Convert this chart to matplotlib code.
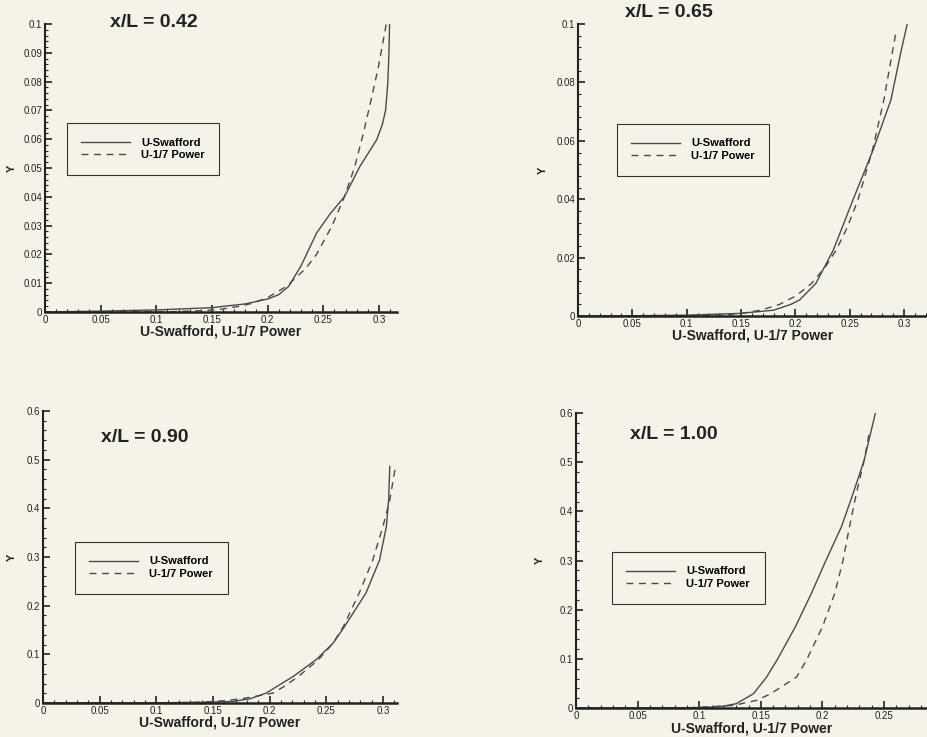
import numpy as np
import matplotlib
matplotlib.use('Agg')
import matplotlib.pyplot as plt
from matplotlib.ticker import MultipleLocator

plt.rcParams['font.family'] = ['Liberation Sans', 'DejaVu Sans']

# x/L = 0.42
u_swaf_042 = [0, 0.05, 0.1, 0.15, 0.18, 0.2, 0.21, 0.219, 0.23, 0.244, 0.256,
              0.269, 0.283, 0.298, 0.303, 0.306, 0.308, 0.309, 0.3096]
y_swaf_042 = [0, 0.0003, 0.0007, 0.0015, 0.0028, 0.0045, 0.006, 0.0089, 0.016,
              0.0274, 0.034, 0.040, 0.0506, 0.0598, 0.065, 0.070, 0.0795,
              0.09, 0.1]
u_pow_042 = [0, 0.082, 0.114, 0.144, 0.159, 0.175, 0.186, 0.200, 0.217, 0.234,
             0.244, 0.258, 0.268, 0.278, 0.286, 0.293, 0.2995, 0.3066]
y_pow_042 = [0, 0.00001, 0.0001, 0.0005, 0.001, 0.002, 0.003, 0.005, 0.0089,
             0.015, 0.02, 0.03, 0.039, 0.05, 0.062, 0.0737, 0.085, 0.1]

# x/L = 0.65
u_swaf_065 = [0, 0.05, 0.1, 0.149, 0.18, 0.196, 0.204, 0.219, 0.235, 0.253,
              0.2715, 0.288, 0.2975, 0.303]
y_swaf_065 = [0, 0.0001, 0.0003, 0.0009, 0.002, 0.004, 0.0055, 0.0112, 0.0226,
              0.0397, 0.0568, 0.074, 0.091, 0.1]
u_pow_065 = [0, 0.0788, 0.1095, 0.138, 0.152, 0.168, 0.1856, 0.201, 0.215,
             0.228, 0.2376, 0.2474, 0.2576, 0.271, 0.2815, 0.293]
y_pow_065 = [0, 0.00001, 0.0001, 0.0005, 0.001, 0.002, 0.004, 0.007, 0.0112,
             0.017, 0.0226, 0.03, 0.0397, 0.0568, 0.074, 0.098]

# x/L = 0.90
u_swaf_090 = [0, 0.1, 0.138, 0.168, 0.183, 0.197, 0.221, 0.241, 0.256, 0.266,
              0.285, 0.297, 0.303, 0.305, 0.306]
y_swaf_090 = [0, 0.0005, 0.0013, 0.0034, 0.009, 0.0205, 0.055, 0.089, 0.123,
              0.157, 0.226, 0.294, 0.363, 0.417, 0.486]
u_pow_090 = [0, 0.0838, 0.1164, 0.1418, 0.1617, 0.1786, 0.203, 0.2127, 0.2255,
             0.243, 0.256, 0.265, 0.279, 0.291, 0.300, 0.306, 0.311]
y_pow_090 = [0, 0.00005, 0.0005, 0.002, 0.005, 0.01, 0.0205, 0.034, 0.055,
             0.089, 0.123, 0.157, 0.226, 0.294, 0.363, 0.417, 0.486]

# x/L = 1.00
u_swaf_100 = [0, 0.09, 0.1115, 0.12, 0.13, 0.144, 0.1547, 0.163, 0.178, 0.191,
              0.203, 0.2155, 0.225, 0.234, 0.243]
y_swaf_100 = [0, 0.0005, 0.002, 0.004, 0.0088, 0.029, 0.063, 0.097, 0.165,
              0.233, 0.301, 0.369, 0.437, 0.505, 0.6]
u_pow_100 = [0, 0.0694, 0.0964, 0.128, 0.1466, 0.158, 0.179, 0.187, 0.2, 0.210,
             0.2168, 0.222, 0.2276, 0.234, 0.238]
y_pow_100 = [0, 0.0001, 0.001, 0.0054, 0.0156, 0.029, 0.063, 0.097, 0.165,
             0.233, 0.301, 0.369, 0.437, 0.505, 0.559]

titles = ['x/L = 0.42', 'x/L = 0.65', 'x/L = 0.90', 'x/L = 1.00']

bg = '#f4f3ea'
ink = '#222222'
linec = '#4a4a4a'

fig = plt.figure(figsize=(9.27, 7.37), dpi=100, facecolor=bg)

# [left, bottom, width, height], xmax, ymax, y major, y minor
panels = [
    ([0.0485, 0.5767, 0.3797, 0.3907], 0.3162, 0.1, 0.01, 0.002,
     (u_swaf_042, y_swaf_042, u_pow_042, y_pow_042), (0.0625, 0.656),
     -0.094, (0.166, 0.9688)),
    ([0.6235, 0.5712, 0.3765, 0.3962], 0.3212, 0.1, 0.02, 0.004,
     (u_swaf_065, y_swaf_065, u_pow_065, y_pow_065), (0.1117, 0.6575),
     -0.10, (0.7217, 0.9837)),
    ([0.0464, 0.0461, 0.3819, 0.3962], 0.3124, 0.6, 0.1, 0.02,
     (u_swaf_090, y_swaf_090, u_pow_090, y_pow_090), (0.0904, 0.5514),
     -0.0876, (0.1564, 0.4057)),
    ([0.6214, 0.0393, 0.3786, 0.4003], 0.2849, 0.6, 0.1, 0.02,
     (u_swaf_100, y_swaf_100, u_pow_100, y_pow_100), (0.1026, 0.529),
     -0.1026, (0.7271, 0.4111)),
]

def tick_fmt(v, pos):
    if abs(v) < 1e-12:
        return '0'
    s = '%.2f' % v
    return s.rstrip('0').rstrip('.')

for i, (rect, xmax, ymax, ymaj, ymin, data, legpos, ylab_x, tpos) in enumerate(panels):
    ax = fig.add_axes(rect)
    ax.set_facecolor(bg)
    us, ys, up, yp = data
    ax.plot(us, ys, color=linec, lw=1.0, label='U-Swafford')
    ax.plot(up, yp, color=linec, lw=1.0, linestyle=(0, (5, 4)), label='U-1/7 Power')
    ax.set_xlim(0, xmax)
    ax.set_ylim(0, ymax)

    for s in ['top', 'right']:
        ax.spines[s].set_visible(False)
    ax.spines['left'].set_linewidth(1.5)
    ax.spines['bottom'].set_linewidth(1.8)
    ax.spines['left'].set_color(ink)
    ax.spines['bottom'].set_color(ink)

    ax.xaxis.set_major_locator(MultipleLocator(0.05))
    ax.xaxis.set_minor_locator(MultipleLocator(0.01))
    ax.yaxis.set_major_locator(MultipleLocator(ymaj))
    ax.yaxis.set_minor_locator(MultipleLocator(ymin))
    ax.xaxis.set_major_formatter(plt.FuncFormatter(tick_fmt))
    ax.yaxis.set_major_formatter(plt.FuncFormatter(tick_fmt))

    ax.tick_params(which='major', direction='in', length=5, width=1.2,
                   labelsize=7, colors=ink, pad=2)
    ax.tick_params(which='minor', direction='in', length=2.5, width=0.8, colors=ink)

    ax.set_xlabel('U-Swafford, U-1/7 Power', fontsize=10, fontweight='bold', color=ink)
    ax.xaxis.label.set_verticalalignment('center')
    ax.xaxis.set_label_coords(0.5, -0.068)
    ax.set_ylabel('Y', fontsize=8, fontweight='bold', color=ink)
    ax.yaxis.label.set_verticalalignment('center')
    ax.yaxis.set_label_coords(ylab_x, 0.5)

    leg = ax.legend(loc='upper left', bbox_to_anchor=legpos, borderaxespad=0,
                    frameon=True, fancybox=False, edgecolor='#333333',
                    facecolor=bg, framealpha=1, handlelength=4.4, handletextpad=1.0,
                    borderpad=1.3, labelspacing=0.25, prop={'weight': 'bold', 'size': 8})
    leg.get_frame().set_linewidth(0.8)

    fig.text(tpos[0], tpos[1], titles[i], fontsize=14, fontweight='bold',
             color=ink, ha='center', va='center')

fig.savefig('out.png', dpi=100, facecolor=bg)
